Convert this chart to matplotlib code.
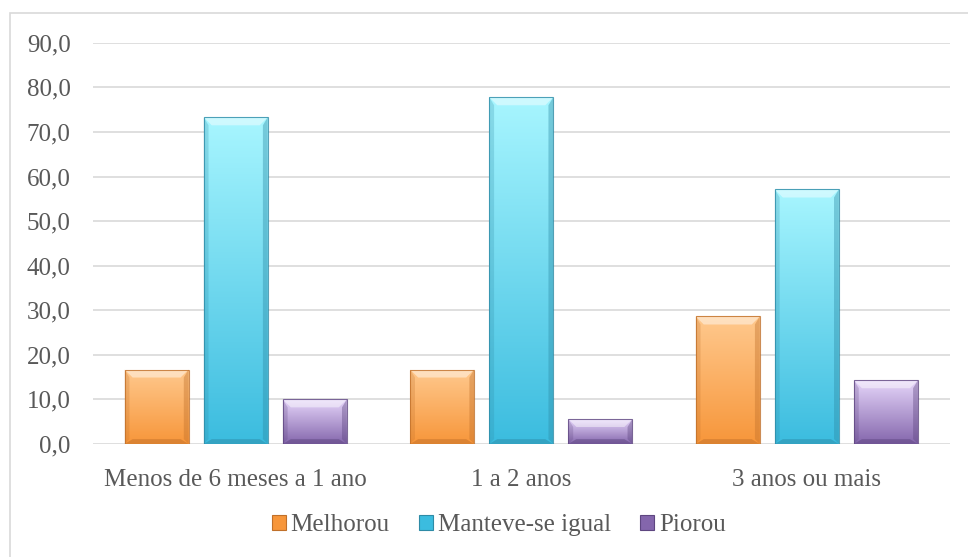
import numpy as np
import matplotlib
matplotlib.use("Agg")
import matplotlib.pyplot as plt
from matplotlib.colors import LinearSegmentedColormap
from matplotlib.patches import Polygon, Rectangle, Patch

categorias = ["Menos de 6 meses a 1 ano", "1 a 2 anos", "3 anos ou mais"]
series = ["Melhorou", "Manteve-se igual", "Piorou"]
melhorou = [16.7, 16.7, 28.6]
manteve = [73.3, 77.8, 57.1]
piorou = [10.0, 5.6, 14.3]
valores = [melhorou, manteve, piorou]

# cores: (topo claro, base escura, borda)
cores = [("#FFC98E", "#F7963A", "#C0702A"),
         ("#A8F6FF", "#3BBCDF", "#2E8BA6"),
         ("#E6D6FA", "#8466AC", "#5E4680")]

plt.rcParams["font.family"] = ["Liberation Serif", "DejaVu Serif"]
cinza = "#595959"
tam = 18

fig = plt.figure(figsize=(9.68, 5.57), dpi=100)
ax = fig.add_axes([0.096, 0.203, 0.885, 0.72])
# moldura da área do gráfico (só esquerda e topo ficam dentro da imagem)
fig.patches.append(Rectangle((10 / 968, -0.05), 1.0, 1.05 - 13 / 557,
                             transform=fig.transFigure, fill=False,
                             edgecolor="#D9D9D9", linewidth=1.2))

x = np.arange(len(categorias))
larg = 0.224
passo = 0.277
ax.set_xlim(-0.5, len(categorias) - 0.5)
ax.set_ylim(0, 90)

# tamanho do chanfro em unidades de dados
px_x = len(categorias) / (0.885 * 968)
px_y = 90 / (0.72 * 557)
bx, by = 8 * px_x, 8 * px_y

for i, (vals, (c_top, c_bot, c_edge)) in enumerate(zip(valores, cores)):
    cmap = LinearSegmentedColormap.from_list(series[i], [c_bot, c_top])
    grad = np.linspace(0, 1, 256).reshape(-1, 1)
    pos = x + (i - 1) * passo
    barras = ax.bar(pos, vals, width=larg, color="none", edgecolor="none", zorder=3)
    for b in barras:
        x0, w, h = b.get_x(), b.get_width(), b.get_height()
        img = ax.imshow(grad, cmap=cmap, origin="lower", aspect="auto",
                        extent=[x0, x0 + w, 0, h], zorder=3)
        img.set_clip_path(b)
        # chanfro: topo claro, laterais e base mais escuras
        ax.add_patch(Polygon([(x0, h), (x0 + w, h), (x0 + w - bx, h - by), (x0 + bx, h - by)],
                             closed=True, facecolor="white", alpha=0.45, edgecolor="none", zorder=4))
        ax.add_patch(Polygon([(x0, 0), (x0 + w, 0), (x0 + w - bx, by * 0.6), (x0 + bx, by * 0.6)],
                             closed=True, facecolor=c_edge, alpha=0.5, edgecolor="none", zorder=4))
        ax.add_patch(Polygon([(x0 + w, 0), (x0 + w, h), (x0 + w - bx * 0.6, h - by), (x0 + w - bx * 0.6, by * 0.6)],
                             closed=True, facecolor=c_edge, alpha=0.4, edgecolor="none", zorder=4))
        ax.add_patch(Polygon([(x0, 0), (x0, h), (x0 + bx * 0.6, h - by), (x0 + bx * 0.6, by * 0.6)],
                             closed=True, facecolor=c_edge, alpha=0.25, edgecolor="none", zorder=4))
        ax.add_patch(Rectangle((x0, 0), w, h, fill=False, edgecolor=c_edge,
                               linewidth=0.8, alpha=0.8, zorder=5))

ax.set_yticks(np.arange(0, 91, 10))
ax.set_yticklabels([f"{v:.1f}".replace(".", ",") for v in np.arange(0, 91, 10)])
ax.set_xticks(x)
ax.set_xticklabels(categorias)
ax.tick_params(axis="both", length=0, labelsize=tam, colors=cinza)
ax.tick_params(axis="y", pad=16)
ax.tick_params(axis="x", pad=18)
ax.grid(axis="y", color="#D9D9D9", linewidth=1.2, zorder=0)
ax.set_axisbelow(True)
for s in ax.spines.values():
    s.set_visible(False)

handles = [Patch(facecolor=c[1], edgecolor=c[2], linewidth=0.8) for c in cores]
fig.legend(handles, series, loc="center", bbox_to_anchor=(0.515, 0.057), ncol=3,
           frameon=False, prop={"family": ["Liberation Serif"], "size": tam},
           labelcolor=cinza, handlelength=0.56, handleheight=0.56,
           handletextpad=0.2, columnspacing=1.16)

fig.savefig("out.png", dpi=100)
